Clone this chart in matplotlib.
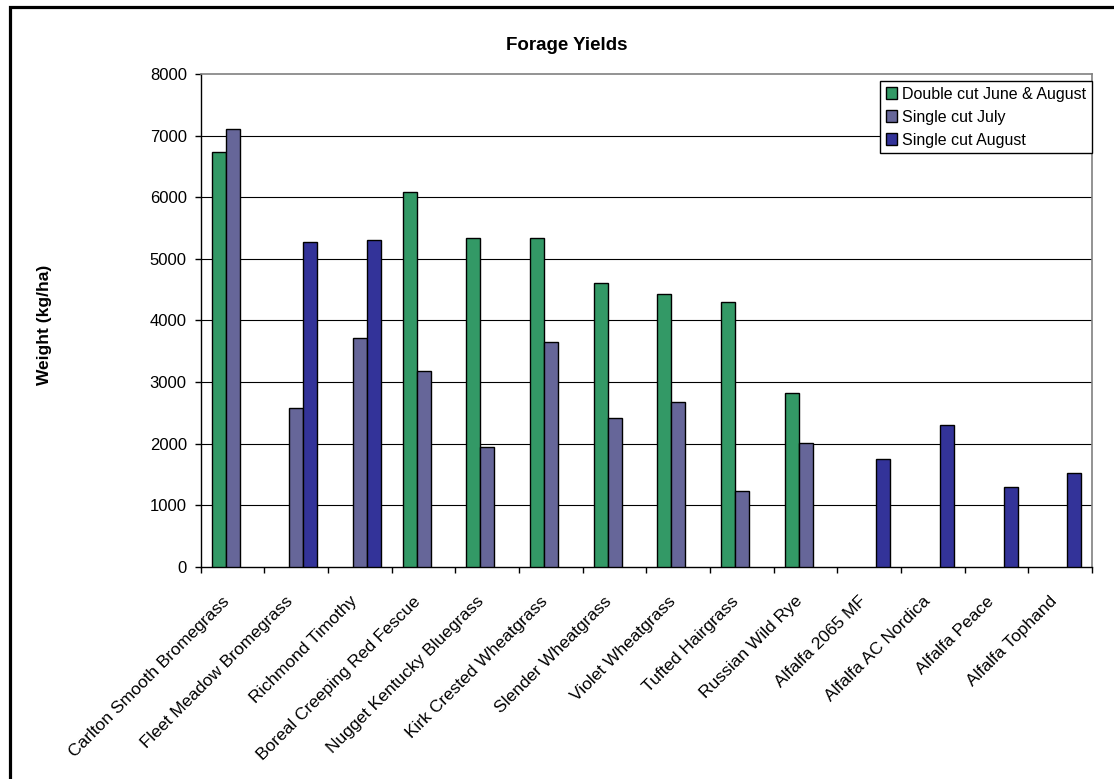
import matplotlib
matplotlib.use("Agg")
import matplotlib.pyplot as plt
import matplotlib.patches as mpatches
import numpy as np

plt.rcParams['font.family'] = ['Liberation Sans', 'DejaVu Sans']

categories = ["Carlton Smooth Bromegrass", "Fleet Meadow Bromegrass", "Richmond Timothy",
              "Boreal Creeping Red Fescue", "Nugget Kentucky Bluegrass", "Kirk Crested Wheatgrass",
              "Slender Wheatgrass", "Violet Wheatgrass", "Tufted Hairgrass", "Russian Wild Rye",
              "Alfalfa 2065 MF", "Alfalfa AC Nordica", "Alfalfa Peace", "Alfalfa Tophand"]

double_cut = [6730, None, None, 6085, 5330, 5340, 4600, 4430, 4290, 2815, None, None, None, None]
single_july = [7100, 2580, 3715, 3175, 1940, 3655, 2415, 2670, 1225, 2015, None, None, None, None]
single_aug = [None, 5270, 5310, None, None, None, None, None, None, None, 1755, 2300, 1295, 1527]

series_names = ["Double cut June & August", "Single cut July", "Single cut August"]
series_colors = ["#339966", "#666699", "#333399"]
yticks = [0, 1000, 2000, 3000, 4000, 5000, 6000, 7000, 8000]

W, H = 1114, 779
fig = plt.figure(figsize=(W / 100, H / 100), dpi=100)
ax = fig.add_axes([200.7 / W, 1 - 566.7 / H, (1092 - 200.7) / W, (566.7 - 74) / H])

x = np.arange(len(categories))
w = 0.22
for k, (vals, name, col) in enumerate(zip([double_cut, single_july, single_aug], series_names, series_colors)):
    idx = [i for i, v in enumerate(vals) if v is not None]
    hv = [vals[i] for i in idx]
    ax.bar(x[idx] + (k - 1) * w, hv, width=w, color=col, edgecolor='black', linewidth=1.0,
           zorder=3, label=name)

ax.set_xlim(-0.5, len(categories) - 0.5)
ax.set_ylim(0, 8000)
ax.set_yticks(yticks)
ax.set_yticklabels([str(v) for v in yticks], fontsize=12)
for v in yticks[1:-1]:
    ax.axhline(v, color='black', lw=0.8, zorder=1)

ax.set_xticks(x)
ax.set_xticklabels(categories, rotation=45, ha='right', va='bottom', rotation_mode='anchor', fontsize=12.5)
ax.set_xticks(np.arange(-0.5, len(categories) + 0.5, 1.0), minor=True)
ax.tick_params(axis='x', which='major', length=0, pad=27)
ax.tick_params(axis='x', which='minor', length=4, width=1, direction='out', color='black')
ax.tick_params(axis='y', length=4, width=1, direction='out', pad=6)

for s in ['left', 'bottom']:
    ax.spines[s].set_color('black')
    ax.spines[s].set_linewidth(1.0)
for s in ['top', 'right']:
    ax.spines[s].set_color('#808080')
    ax.spines[s].set_linewidth(1.2)

leg = ax.legend(loc='upper right', bbox_to_anchor=(1092 / W, 1 - 81 / H),
                bbox_transform=fig.transFigure, fontsize=11.5, frameon=True, fancybox=False,
                framealpha=1, edgecolor='black', handlelength=0.75, handleheight=0.75,
                handletextpad=0.3, borderpad=0.35, labelspacing=0.5, borderaxespad=0)
leg.get_frame().set_linewidth(1.0)
leg.set_zorder(5)

fig.text(567 / W, 1 - 46 / H, "Forage Yields", ha='center', va='center', fontsize=13.5, fontweight='bold')
fig.text(44 / W, 1 - 325 / H, "Weight (kg/ha)", ha='center', va='center', rotation=90,
         fontsize=12.5, fontweight='bold')

frame = mpatches.Rectangle((10 / W, -0.1), 1.2, (1 - 7 / H) + 0.1, transform=fig.transFigure,
                           fill=False, edgecolor='black', linewidth=2.3, clip_on=False)
fig.patches.append(frame)

fig.savefig("out.png", dpi=100)
